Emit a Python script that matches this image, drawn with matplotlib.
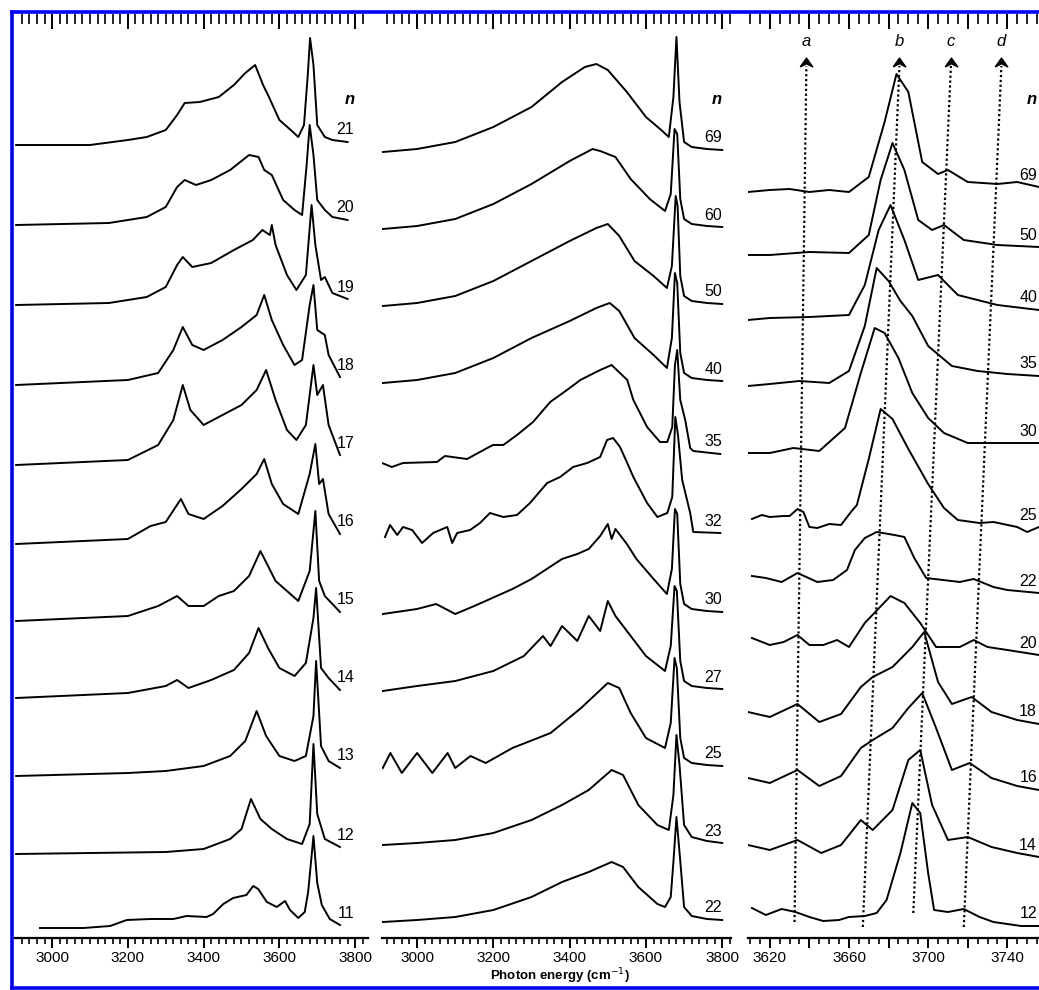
import matplotlib.pyplot as plt
from matplotlib.lines import Line2D
from matplotlib.ticker import MultipleLocator

plt.rcParams['font.family'] = ['Liberation Sans', 'DejaVu Sans']

# y values are heights in "pixel units" above the bottom axis line;
# each spectrum = its baseline level + its own trace heights

# ---- panel 1 : n = 21 ... 11 ----
p1_n = [21, 20, 19, 18, 17, 16, 15, 14, 13, 12, 11]
p1_base = [793, 713, 633, 553, 473, 394, 317, 240, 162, 84, 10]
p1_x = {
    21: [2905, 3100, 3200, 3250, 3300, 3330, 3350, 3390, 3440, 3480, 3510, 3536, 3557, 3570, 3600, 3630, 3650, 3665, 3675, 3681, 3690, 3700, 3720, 3740, 3780],
    20: [2905, 3150, 3250, 3300, 3330, 3350, 3380, 3420, 3470, 3520, 3545, 3560, 3580, 3610, 3640, 3660, 3672, 3680, 3690, 3700, 3720, 3740, 3780],
    19: [2905, 3150, 3250, 3300, 3330, 3345, 3370, 3420, 3480, 3530, 3555, 3575, 3580, 3590, 3620, 3645, 3670, 3685, 3695, 3710, 3720, 3740, 3780],
    18: [2905, 3200, 3280, 3320, 3345, 3370, 3400, 3450, 3500, 3540, 3560, 3580, 3610, 3640, 3660, 3680, 3690, 3700, 3720, 3730, 3760],
    17: [2905, 3200, 3280, 3320, 3345, 3365, 3400, 3450, 3500, 3540, 3565, 3590, 3620, 3645, 3670, 3690, 3700, 3715, 3730, 3760],
    16: [2905, 3200, 3260, 3300, 3340, 3360, 3400, 3450, 3500, 3540, 3560, 3580, 3610, 3630, 3650, 3680, 3695, 3705, 3715, 3730, 3760],
    15: [2905, 3200, 3280, 3330, 3360, 3400, 3440, 3480, 3520, 3550, 3570, 3590, 3620, 3650, 3680, 3695, 3705, 3720, 3760],
    14: [2905, 3200, 3300, 3330, 3360, 3420, 3480, 3520, 3545, 3570, 3600, 3640, 3670, 3690, 3697, 3710, 3730, 3760],
    13: [2905, 3200, 3300, 3400, 3470, 3510, 3540, 3565, 3600, 3640, 3670, 3690, 3697, 3710, 3730, 3760],
    12: [2905, 3300, 3400, 3470, 3500, 3525, 3550, 3580, 3620, 3660, 3680, 3690, 3700, 3720, 3760],
    11: [2968, 3083, 3153, 3197, 3259, 3320, 3355, 3408, 3425, 3452, 3478, 3513, 3531, 3544, 3567, 3593, 3615, 3628, 3650, 3667, 3676, 3690, 3700, 3712, 3733, 3760],
}
p1_h = {
    21: [0, 0, 5, 8, 15, 30, 42, 43, 48, 60, 72, 80, 60, 50, 25, 15, 8, 20, 70, 107, 80, 20, 8, 5, 3],
    20: [0, 2, 8, 18, 38, 45, 40, 45, 55, 70, 68, 55, 50, 25, 15, 10, 60, 100, 70, 25, 15, 8, 5],
    19: [0, 2, 8, 18, 40, 48, 38, 42, 55, 65, 75, 70, 80, 60, 30, 15, 30, 100, 60, 25, 28, 12, 6],
    18: [0, 5, 12, 35, 58, 40, 35, 45, 58, 70, 90, 65, 40, 20, 25, 80, 100, 55, 50, 30, 8],
    17: [0, 5, 20, 45, 80, 55, 40, 50, 60, 75, 95, 65, 35, 25, 40, 100, 70, 80, 40, 10],
    16: [0, 5, 18, 22, 45, 30, 25, 38, 55, 70, 85, 60, 40, 35, 30, 70, 100, 60, 65, 30, 10],
    15: [0, 5, 15, 25, 15, 15, 25, 30, 45, 70, 55, 40, 30, 20, 50, 110, 40, 25, 9],
    14: [0, 5, 12, 18, 10, 18, 28, 45, 70, 50, 30, 22, 35, 80, 110, 30, 20, 8],
    13: [0, 3, 5, 10, 20, 35, 65, 40, 20, 15, 20, 60, 115, 30, 15, 8],
    12: [0, 2, 5, 15, 25, 55, 35, 25, 15, 10, 30, 110, 40, 15, 7],
    11: [0, 0, 2, 8, 9, 9, 12, 11, 14, 24, 30, 33, 42, 39, 26, 21, 27, 18, 10, 16, 36, 92, 45, 23, 9, 3],
}

# ---- panel 2 : n = 69 ... 22 ----
p2_n = [69, 60, 50, 40, 35, 32, 30, 27, 25, 23, 22]
p2_base = [786, 709, 632, 555, 478, 403, 324, 247, 170, 93, 16]
p2_x = {
    69: [2910, 3000, 3100, 3200, 3300, 3380, 3440, 3470, 3500, 3550, 3600, 3640, 3660, 3672, 3680, 3688, 3700, 3720, 3760, 3800],
    60: [2910, 3000, 3100, 3200, 3300, 3400, 3460, 3480, 3520, 3560, 3610, 3650, 3665, 3675, 3682, 3690, 3700, 3720, 3760, 3800],
    50: [2910, 3000, 3100, 3200, 3300, 3400, 3470, 3500, 3530, 3570, 3620, 3655, 3668, 3678, 3683, 3690, 3700, 3720, 3760, 3800],
    40: [2910, 3000, 3100, 3200, 3300, 3400, 3470, 3505, 3530, 3570, 3620, 3655, 3668, 3676, 3682, 3690, 3700, 3720, 3760, 3800],
    35: [2908, 2934, 2963, 3052, 3073, 3131, 3184, 3199, 3226, 3262, 3304, 3349, 3393, 3428, 3480, 3510, 3551, 3567, 3603, 3637, 3656, 3669, 3676, 3682, 3690, 3703, 3716, 3724, 3795],
    32: [2916, 2929, 2948, 2963, 2987, 3013, 3042, 3079, 3092, 3105, 3139, 3165, 3191, 3226, 3262, 3296, 3341, 3375, 3409, 3446, 3480, 3498, 3514, 3532, 3551, 3567, 3603, 3630, 3656, 3669, 3677, 3684, 3695, 3716, 3724, 3795],
    30: [2910, 3000, 3050, 3100, 3150, 3250, 3300, 3380, 3420, 3450, 3480, 3500, 3510, 3520, 3550, 3575, 3620, 3655, 3668, 3676, 3682, 3690, 3700, 3720, 3760, 3800],
    27: [2910, 3000, 3100, 3200, 3280, 3330, 3350, 3380, 3420, 3450, 3480, 3500, 3520, 3560, 3600, 3650, 3665, 3675, 3681, 3690, 3700, 3720, 3760, 3800],
    25: [2910, 2930, 2960, 3000, 3040, 3080, 3100, 3140, 3180, 3250, 3350, 3430, 3500, 3530, 3560, 3600, 3650, 3665, 3675, 3681, 3690, 3700, 3720, 3760, 3800],
    23: [2910, 3000, 3100, 3200, 3300, 3380, 3450, 3510, 3540, 3580, 3630, 3660, 3672, 3680, 3688, 3700, 3720, 3760, 3800],
    22: [2910, 3000, 3100, 3200, 3300, 3380, 3450, 3510, 3540, 3580, 3630, 3650, 3665, 3672, 3680, 3688, 3700, 3720, 3760, 3800],
}
p2_h = {
    69: [0, 3, 10, 25, 45, 70, 85, 88, 82, 60, 35, 22, 15, 55, 115, 50, 10, 5, 3, 2],
    60: [0, 3, 10, 25, 45, 68, 80, 78, 72, 50, 30, 18, 35, 100, 95, 30, 10, 5, 3, 2],
    50: [0, 3, 10, 25, 45, 65, 78, 82, 70, 45, 30, 18, 40, 110, 100, 30, 10, 5, 3, 2],
    40: [0, 3, 10, 25, 45, 62, 75, 80, 72, 45, 28, 15, 45, 110, 100, 30, 10, 5, 3, 2],
    35: [-3, -7, -3, -2, 4, 1, 12, 15, 15, 25, 38, 58, 70, 80, 90, 95, 80, 60, 33, 18, 18, 33, 95, 110, 60, 40, 12, 9, 6],
    32: [-2, 10, 0, 8, 5, -8, 2, 8, -8, 2, 5, 12, 22, 18, 20, 32, 52, 58, 68, 72, 78, 95, 97, 88, 72, 58, 32, 18, 22, 38, 118, 100, 55, 22, 3, 2],
    30: [0, 5, 10, 0, 8, 25, 35, 55, 60, 65, 78, 90, 75, 85, 70, 55, 35, 20, 45, 105, 100, 30, 10, 5, 3, 2],
    27: [0, 5, 10, 20, 35, 55, 45, 65, 50, 75, 60, 90, 75, 55, 35, 20, 45, 105, 100, 30, 10, 5, 3, 2],
    25: [0, 15, -5, 15, -5, 15, 0, 12, 5, 20, 35, 60, 85, 80, 55, 30, 20, 45, 110, 100, 30, 10, 5, 3, 2],
    23: [0, 2, 5, 12, 25, 40, 55, 75, 70, 40, 20, 15, 50, 110, 80, 20, 8, 4, 2],
    22: [0, 2, 5, 12, 25, 40, 50, 60, 55, 35, 18, 15, 25, 60, 105, 70, 15, 6, 3, 2],
}

# ---- panel 3 : n = 69 ... 12 (free OH region) ----
p3_n = [69, 50, 40, 35, 30, 25, 22, 20, 18, 16, 14, 12]
p3_base = [746, 683, 618, 552, 485, 419, 362, 300, 226, 160, 93, 30]
p3_x = {
    69: [3609, 3620, 3630, 3640, 3650, 3660, 3670, 3678, 3684, 3690, 3697, 3705, 3710, 3720, 3735, 3745, 3756],
    50: [3609, 3620, 3640, 3660, 3670, 3676, 3682, 3688, 3695, 3702, 3708, 3718, 3735, 3756],
    40: [3609, 3620, 3640, 3660, 3668, 3675, 3681, 3688, 3695, 3705, 3715, 3735, 3756],
    35: [3609, 3620, 3635, 3650, 3660, 3668, 3674, 3680, 3686, 3692, 3700, 3712, 3725, 3740, 3756],
    30: [3609, 3620, 3632, 3645, 3658, 3666, 3673, 3678, 3685, 3692, 3700, 3708, 3720, 3740, 3756],
    25: [3611, 3616, 3620, 3627, 3630, 3634, 3637, 3640, 3644, 3650, 3656, 3661, 3664, 3670, 3676, 3682, 3690, 3700, 3708, 3715, 3726, 3733, 3745, 3750, 3756],
    22: [3611, 3618, 3626, 3634, 3644, 3652, 3659, 3663, 3668, 3674, 3683, 3688, 3693, 3699, 3716, 3723, 3733, 3740, 3756],
    20: [3611, 3620, 3627, 3634, 3640, 3647, 3654, 3660, 3668, 3681, 3688, 3696, 3704, 3716, 3723, 3730, 3740, 3756],
    18: [3609, 3620, 3634, 3645, 3656, 3666, 3672, 3682, 3692, 3698, 3705, 3712, 3722, 3732, 3745, 3756],
    16: [3609, 3620, 3634, 3645, 3656, 3666, 3672, 3682, 3690, 3697, 3704, 3712, 3721, 3732, 3745, 3756],
    14: [3609, 3620, 3634, 3646, 3656, 3666, 3672, 3682, 3690, 3696, 3702, 3710, 3720, 3732, 3745, 3756],
    12: [3611, 3618, 3626, 3633, 3640, 3647, 3655, 3660, 3668, 3674, 3679, 3686, 3692, 3696, 3700, 3703, 3710, 3718, 3726, 3733, 3747, 3756],
}
p3_h = {
    69: [0, 2, 3, 0, 2, 0, 15, 70, 118, 100, 30, 18, 22, 10, 8, 10, 5],
    50: [0, 0, 3, 2, 20, 75, 112, 85, 35, 25, 30, 15, 10, 8],
    40: [0, 2, 3, 5, 35, 90, 115, 80, 40, 45, 25, 15, 10],
    35: [0, 2, 5, 3, 15, 60, 118, 105, 85, 70, 40, 20, 15, 12, 10],
    30: [0, 0, 5, 2, 25, 80, 125, 120, 95, 60, 35, 20, 10, 10, 10],
    25: [0, 4, 2, 3, 3, 10, 7, -8, -9, -5, -6, 7, 14, 60, 110, 100, 70, 35, 11, -1, -4, -3, -8, -13, -8],
    22: [0, -2, -6, 3, -6, -4, 6, 26, 38, 44, 41, 39, 18, -2, -6, -3, -11, -14, -17],
    20: [0, -7, -4, 3, -7, -7, -2, -9, 15, 42, 35, 15, -9, -9, -2, -9, -12, -17],
    18: [0, -5, 8, -10, -2, 25, 35, 45, 65, 80, 30, 8, 15, 0, -8, -12],
    16: [0, -5, 8, -8, 2, 30, 38, 50, 70, 85, 50, 8, 15, 0, -8, -12],
    14: [0, -5, 5, -8, 0, 25, 15, 35, 85, 95, 40, 5, 8, -2, -8, -12],
    12: [0, -7, -1, -4, -9, -13, -12, -9, -8, -5, 8, 55, 105, 95, 35, -2, -4, -1, -9, -14, -18, -18],
}

# dotted guide lines in panel 3 (x positions at top and bottom)
guide_labels = ['a', 'b', 'c', 'd']
guide_top = [3638.5, 3685.5, 3711.5, 3737.0]
guide_bottom = [3632.5, 3667.0, 3692.5, 3718.0]
guide_bottom_y = [16, 11, 25, 11]

W, H = 1039, 990
fig = plt.figure(figsize=(W / 100, H / 100), dpi=100)


def px_axes(x0, x1):
    return fig.add_axes([x0 / W, (H - 938) / H, (x1 - x0) / W, 924 / H])


def style(ax, xlim, major, minor, lab0, lab_step):
    ax.set_xlim(*xlim)
    ax.set_ylim(0, 924)
    for s in ['left', 'right', 'top']:
        ax.spines[s].set_visible(False)
    ax.spines['bottom'].set_linewidth(1.6)
    ax.set_yticks([])
    ticks = list(range(int(xlim[0] // major + 1) * major, int(xlim[1]) + 1, major))
    ax.set_xticks(ticks)
    ax.set_xticklabels([str(t) if (t - lab0) % lab_step == 0 else '' for t in ticks])
    ax.xaxis.set_minor_locator(MultipleLocator(minor))
    ax.tick_params(axis='x', which='major', direction='out', length=7.5, width=1.4,
                   labelsize=11, pad=2)
    ax.tick_params(axis='x', which='minor', direction='out', length=4, width=1.2)
    top = ax.secondary_xaxis('top')
    top.set_xticks(ticks)
    top.xaxis.set_minor_locator(MultipleLocator(minor))
    top.set_xticklabels([])
    top.spines['top'].set_visible(False)
    top.tick_params(which='major', direction='in', length=11, width=1.4)
    top.tick_params(which='minor', direction='in', length=7, width=1.2)


ax1 = px_axes(15, 368)
style(ax1, (2902, 3834), 200, 20, 3000, 200)
ax2 = px_axes(382, 731)
style(ax2, (2908, 3823), 200, 20, 3000, 200)
ax3 = px_axes(748, 1039)
style(ax3, (3609, 3756), 20, 5, 3620, 40)

for ax, ns, base, xs, hs, xl in [(ax1, p1_n, p1_base, p1_x, p1_h, 3798),
                                (ax2, p2_n, p2_base, p2_x, p2_h, 3800),
                                (ax3, p3_n, p3_base, p3_x, p3_h, 3755)]:
    for n, b in zip(ns, base):
        ax.plot(xs[n], [b + v for v in hs[n]], color='black', lw=1.4)
        ax.text(xl, b + hs[n][-1] + 12, str(n), ha='right', va='center', fontsize=11.5)
    ax.text(xl, 838, 'n', ha='right', va='center', fontsize=12,
            fontweight='bold', style='italic')

head = [(-1, -0.7), (0, 0.7), (1, -0.7), (0, -0.2), (-1, -0.7)]
for lab, xt, xb, yb in zip(guide_labels, guide_top, guide_bottom, guide_bottom_y):
    ax3.plot([xb, xt], [yb, 872], color='black', lw=1.6, ls=(0, (1, 1.2)))
    ax3.plot([xt], [876], marker=head, ms=9, color='black')
    ax3.text(xt, 897, lab, ha='center', va='center', fontsize=12, style='italic')

fig.text(560 / W, (H - 986) / H, 'Photon energy (cm$^{-1}$)', ha='center', va='bottom',
         fontsize=9.5, fontweight='bold')

# blue frame around the figure
kw = dict(color='#0000ff', lw=2.6, transform=fig.transFigure, clip_on=False, zorder=10)
fig.add_artist(Line2D([12 / W, 12 / W], [(H - 988) / H, (H - 12) / H], **kw))
fig.add_artist(Line2D([12 / W, 1.0], [(H - 12) / H, (H - 12) / H], **kw))
fig.add_artist(Line2D([12 / W, 1.0], [(H - 988) / H, (H - 988) / H], **kw))

fig.savefig('out.png', dpi=100)
